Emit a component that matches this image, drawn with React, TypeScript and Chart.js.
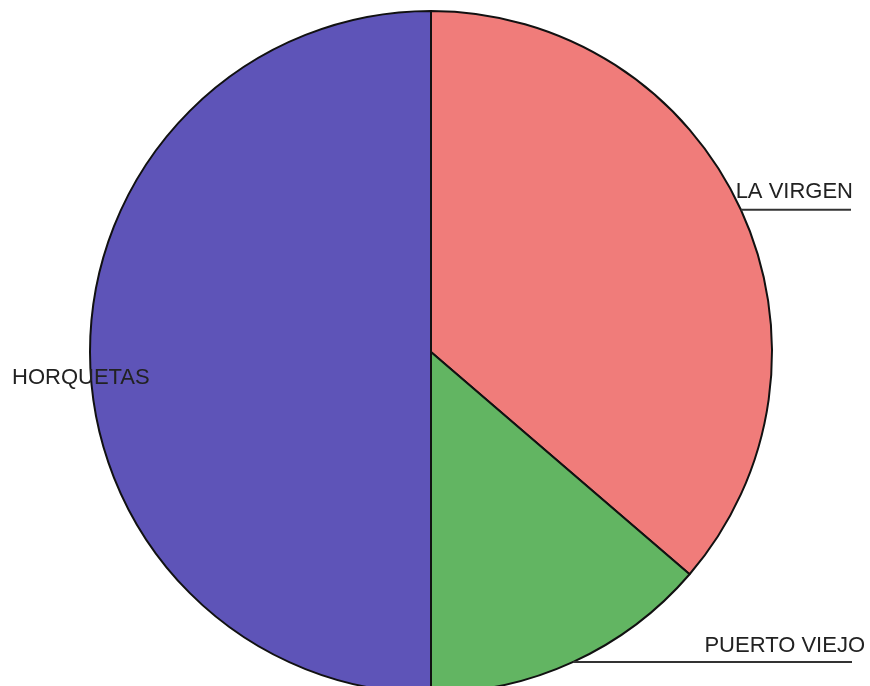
import React, { useEffect, useRef } from "react";
import { Chart, registerables } from "chart.js";

Chart.register(...registerables);

const categories = ["LA VIRGEN", "PUERTO VIEJO", "HORQUETAS"];
const values = [36.3, 13.7, 50.0];
const colors = ["#f07c7a", "#62b562", "#5e54b8"];

// label placement styles per category (leader line to the right, or plain text)
const labelStyles = [
  { line: true, lineEndX: 851, textRightX: 853, gap: 12, fontSize: 22 },
  { line: true, lineEndX: 852, textRightX: 865, gap: 10, fontSize: 22 },
  { line: false, dx: -78, dy: 32, fontSize: 22 },
];

const labelPlugin = {
  id: "pieLabels",
  afterDatasetsDraw(chart: any) {
    const ctx = chart.ctx;
    const meta = chart.getDatasetMeta(0);
    ctx.save();
    meta.data.forEach((arc: any, i: number) => {
      const { x, y, startAngle, endAngle, outerRadius } = arc.getProps(
        ["x", "y", "startAngle", "endAngle", "outerRadius"],
        true
      );
      const mid = (startAngle + endAngle) / 2;
      const px = x + Math.cos(mid) * outerRadius;
      const py = y + Math.sin(mid) * outerRadius;
      const st: any = labelStyles[i];
      ctx.font = `${st.fontSize}px "Liberation Sans", Arial, sans-serif`;
      ctx.fillStyle = "#222";
      if (st.line) {
        ctx.strokeStyle = "#333";
        ctx.lineWidth = 2;
        ctx.beginPath();
        ctx.moveTo(px, py);
        ctx.lineTo(st.lineEndX, py);
        ctx.stroke();
        ctx.textAlign = "right";
        ctx.textBaseline = "alphabetic";
        ctx.fillText(categories[i], st.textRightX, py - st.gap);
      } else {
        ctx.textAlign = "left";
        ctx.textBaseline = "alphabetic";
        ctx.fillText(categories[i], px + st.dx, py + st.dy);
      }
    });
    ctx.restore();
  },
};

export default function App() {
  const ref = useRef<HTMLCanvasElement>(null);
  useEffect(() => {
    document.body.style.margin = "0";
    document.body.style.background = "#ffffff";
    const chart = new Chart(ref.current!, {
      type: "pie",
      data: {
        labels: categories,
        datasets: [
          {
            data: values,
            backgroundColor: colors,
            borderColor: "#111111",
            borderWidth: 2,
          },
        ],
      },
      options: {
        responsive: false,
        animation: false,
        layout: { padding: { left: 89, right: 97, top: 10, bottom: 6 } },
        plugins: {
          legend: { display: false },
          tooltip: { enabled: false },
        },
      },
      plugins: [labelPlugin],
    });
    return () => chart.destroy();
  }, []);
  return (
    <div style={{ width: 870, height: 686, overflow: "hidden", position: "relative", background: "#fff" }}>
      <canvas ref={ref} width={870} height={700} style={{ display: "block" }} />
    </div>
  );
}
